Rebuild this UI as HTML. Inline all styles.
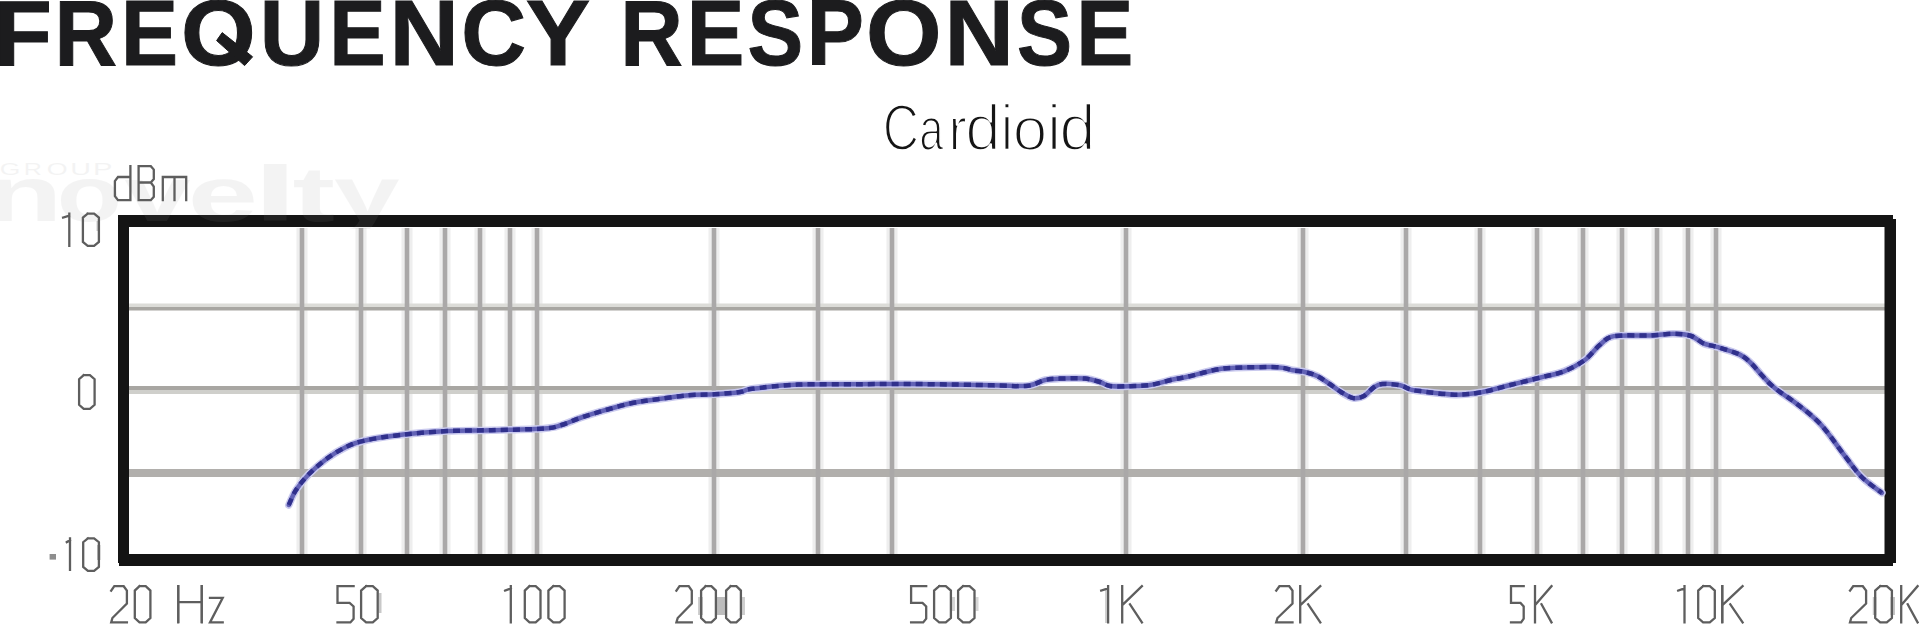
<!DOCTYPE html>
<html><head><meta charset="utf-8"><style>
html,body{margin:0;padding:0;background:#fff;}
body{width:1920px;height:625px;overflow:hidden;position:relative;}
svg{position:absolute;left:0;top:0;font-family:"Liberation Sans",sans-serif;}
</style></head><body>
<svg width="1920" height="625" viewBox="0 0 1920 625">
<rect x="296.5" y="228" width="11" height="326" fill="#eeeeee"/><rect x="355.5" y="228" width="11" height="326" fill="#eeeeee"/><rect x="401.5" y="228" width="11" height="326" fill="#eeeeee"/><rect x="439.5" y="228" width="11" height="326" fill="#eeeeee"/><rect x="474.5" y="228" width="11" height="326" fill="#eeeeee"/><rect x="504.5" y="228" width="11" height="326" fill="#eeeeee"/><rect x="531.5" y="228" width="11" height="326" fill="#eeeeee"/><rect x="708.5" y="228" width="11" height="326" fill="#eeeeee"/><rect x="812.5" y="228" width="11" height="326" fill="#eeeeee"/><rect x="886.5" y="228" width="11" height="326" fill="#eeeeee"/><rect x="1120.5" y="228" width="11" height="326" fill="#eeeeee"/><rect x="1297.5" y="228" width="11" height="326" fill="#eeeeee"/><rect x="1400.5" y="228" width="11" height="326" fill="#eeeeee"/><rect x="1474.5" y="228" width="11" height="326" fill="#eeeeee"/><rect x="1531.5" y="228" width="11" height="326" fill="#eeeeee"/><rect x="1577.5" y="228" width="11" height="326" fill="#eeeeee"/><rect x="1616.5" y="228" width="11" height="326" fill="#eeeeee"/><rect x="1651.5" y="228" width="11" height="326" fill="#eeeeee"/><rect x="1682.5" y="228" width="11" height="326" fill="#eeeeee"/><rect x="1710.5" y="228" width="11" height="326" fill="#eeeeee"/><rect x="129" y="303.5" width="1756" height="3.5" fill="#dcdcd8"/><rect x="129" y="307" width="1756" height="3.5" fill="#a8a6a2"/><rect x="129" y="386" width="1756" height="4" fill="#a8a6a2"/><rect x="129" y="390" width="1756" height="4" fill="#cfcfcb"/><rect x="129" y="469" width="1756" height="8" fill="#b1afac"/><rect x="299.7" y="228" width="4.6" height="326" fill="#aaa8a8"/><rect x="358.7" y="228" width="4.6" height="326" fill="#aaa8a8"/><rect x="404.7" y="228" width="4.6" height="326" fill="#aaa8a8"/><rect x="442.7" y="228" width="4.6" height="326" fill="#aaa8a8"/><rect x="477.7" y="228" width="4.6" height="326" fill="#aaa8a8"/><rect x="507.7" y="228" width="4.6" height="326" fill="#aaa8a8"/><rect x="534.7" y="228" width="4.6" height="326" fill="#aaa8a8"/><rect x="711.7" y="228" width="4.6" height="326" fill="#aaa8a8"/><rect x="815.7" y="228" width="4.6" height="326" fill="#aaa8a8"/><rect x="889.7" y="228" width="4.6" height="326" fill="#aaa8a8"/><rect x="1123.7" y="228" width="4.6" height="326" fill="#aaa8a8"/><rect x="1300.7" y="228" width="4.6" height="326" fill="#aaa8a8"/><rect x="1403.7" y="228" width="4.6" height="326" fill="#aaa8a8"/><rect x="1477.7" y="228" width="4.6" height="326" fill="#aaa8a8"/><rect x="1534.7" y="228" width="4.6" height="326" fill="#aaa8a8"/><rect x="1580.7" y="228" width="4.6" height="326" fill="#aaa8a8"/><rect x="1619.7" y="228" width="4.6" height="326" fill="#aaa8a8"/><rect x="1654.7" y="228" width="4.6" height="326" fill="#aaa8a8"/><rect x="1685.7" y="228" width="4.6" height="326" fill="#aaa8a8"/><rect x="1713.7" y="228" width="4.6" height="326" fill="#aaa8a8"/>
<path d="M118 215H1893V219H1896V563H1893V566H119V563H118Z M129 227V554H1884.5V227Z" fill="#141414" fill-rule="evenodd"/>
<g fill="none" stroke-linecap="round" stroke-linejoin="round">
<path d="M288.8 505.0 C290.0 502.5 292.6 495.2 296.0 490.0 C299.4 484.8 303.8 479.2 309.0 474.0 C314.2 468.8 320.7 463.1 327.0 458.5 C333.3 453.9 340.7 449.5 347.0 446.5 C353.3 443.5 355.6 442.5 365.0 440.5 C374.4 438.5 389.5 436.2 403.2 434.6 C416.9 433.0 432.5 431.8 447.2 431.1 C461.9 430.4 475.1 430.6 491.2 430.2 C507.3 429.8 532.3 429.4 544.0 428.5 C555.7 427.6 555.5 426.8 561.5 425.0 C567.5 423.2 573.6 420.2 580.0 418.0 C586.4 415.8 591.5 414.1 600.0 411.7 C608.5 409.2 621.5 405.4 631.0 403.3 C640.5 401.2 647.7 400.6 657.3 399.2 C666.9 397.8 679.0 396.0 688.5 395.2 C698.0 394.4 706.0 394.8 714.6 394.3 C723.2 393.8 733.8 392.9 740.0 392.0 C746.2 391.1 742.3 390.0 752.0 388.8 C761.7 387.6 780.0 385.4 798.0 384.6 C816.0 383.8 842.6 384.3 860.0 384.2 C877.4 384.1 885.0 383.8 902.5 383.9 C920.0 384.0 948.8 384.4 965.0 384.7 C981.2 385.0 989.5 385.3 1000.0 385.5 C1010.5 385.7 1020.5 386.7 1028.0 385.8 C1035.5 384.9 1039.7 381.2 1045.0 380.0 C1050.3 378.8 1053.3 378.8 1060.0 378.6 C1066.7 378.4 1078.3 378.0 1085.0 378.6 C1091.7 379.2 1095.8 380.8 1100.0 382.0 C1104.2 383.2 1105.0 385.3 1110.0 386.0 C1115.0 386.7 1123.3 386.4 1130.0 386.2 C1136.7 386.0 1142.8 386.1 1150.0 385.0 C1157.2 383.9 1166.6 380.9 1173.0 379.5 C1179.4 378.1 1183.3 377.7 1188.5 376.5 C1193.7 375.3 1198.8 373.8 1204.0 372.5 C1209.2 371.2 1214.8 369.8 1220.0 369.0 C1225.2 368.2 1225.9 368.0 1235.4 367.7 C1244.9 367.4 1267.5 366.8 1277.0 367.2 C1286.5 367.6 1287.9 369.5 1292.7 370.3 C1297.5 371.1 1301.7 371.2 1305.8 372.2 C1309.9 373.2 1313.3 374.1 1317.3 376.1 C1321.3 378.1 1325.6 381.4 1329.6 384.0 C1333.5 386.6 1337.0 389.6 1341.0 392.0 C1345.0 394.4 1349.5 397.5 1353.3 398.1 C1357.1 398.8 1360.5 397.7 1363.9 395.9 C1367.3 394.1 1370.5 389.5 1373.6 387.5 C1376.7 385.5 1377.9 384.4 1382.3 384.0 C1386.7 383.6 1395.4 384.4 1400.0 385.3 C1404.6 386.2 1406.7 388.3 1410.0 389.3 C1413.3 390.3 1412.5 390.2 1420.0 391.1 C1427.5 392.0 1444.5 394.5 1454.7 394.7 C1464.9 394.9 1472.2 393.9 1481.3 392.3 C1490.4 390.7 1499.5 387.8 1509.4 385.3 C1519.3 382.8 1531.5 379.8 1540.6 377.5 C1549.7 375.2 1556.7 374.2 1564.0 371.3 C1571.3 368.4 1578.4 364.7 1584.4 360.3 C1590.4 355.9 1595.1 348.7 1600.0 344.7 C1604.9 340.7 1605.7 337.6 1614.0 336.1 C1622.3 334.6 1640.1 335.9 1650.0 335.5 C1659.9 335.1 1666.5 333.7 1673.4 333.8 C1680.3 333.8 1686.1 334.3 1691.2 336.0 C1696.3 337.7 1699.7 341.9 1704.0 343.7 C1708.3 345.5 1710.8 345.1 1716.8 346.9 C1722.8 348.7 1734.0 351.8 1739.8 354.6 C1745.6 357.4 1747.8 360.1 1751.4 363.5 C1755.0 366.9 1757.8 370.9 1761.6 375.0 C1765.4 379.1 1768.3 382.8 1774.4 387.8 C1780.5 392.8 1790.5 398.8 1798.3 405.0 C1806.1 411.2 1813.7 416.8 1821.4 425.2 C1829.1 433.6 1837.7 446.8 1844.4 455.4 C1851.1 464.0 1855.5 470.8 1861.7 477.0 C1868.0 483.2 1878.5 490.2 1881.9 492.9" stroke="#cacaee" stroke-width="7.5"/>
<path d="M288.8 505.0 C290.0 502.5 292.6 495.2 296.0 490.0 C299.4 484.8 303.8 479.2 309.0 474.0 C314.2 468.8 320.7 463.1 327.0 458.5 C333.3 453.9 340.7 449.5 347.0 446.5 C353.3 443.5 355.6 442.5 365.0 440.5 C374.4 438.5 389.5 436.2 403.2 434.6 C416.9 433.0 432.5 431.8 447.2 431.1 C461.9 430.4 475.1 430.6 491.2 430.2 C507.3 429.8 532.3 429.4 544.0 428.5 C555.7 427.6 555.5 426.8 561.5 425.0 C567.5 423.2 573.6 420.2 580.0 418.0 C586.4 415.8 591.5 414.1 600.0 411.7 C608.5 409.2 621.5 405.4 631.0 403.3 C640.5 401.2 647.7 400.6 657.3 399.2 C666.9 397.8 679.0 396.0 688.5 395.2 C698.0 394.4 706.0 394.8 714.6 394.3 C723.2 393.8 733.8 392.9 740.0 392.0 C746.2 391.1 742.3 390.0 752.0 388.8 C761.7 387.6 780.0 385.4 798.0 384.6 C816.0 383.8 842.6 384.3 860.0 384.2 C877.4 384.1 885.0 383.8 902.5 383.9 C920.0 384.0 948.8 384.4 965.0 384.7 C981.2 385.0 989.5 385.3 1000.0 385.5 C1010.5 385.7 1020.5 386.7 1028.0 385.8 C1035.5 384.9 1039.7 381.2 1045.0 380.0 C1050.3 378.8 1053.3 378.8 1060.0 378.6 C1066.7 378.4 1078.3 378.0 1085.0 378.6 C1091.7 379.2 1095.8 380.8 1100.0 382.0 C1104.2 383.2 1105.0 385.3 1110.0 386.0 C1115.0 386.7 1123.3 386.4 1130.0 386.2 C1136.7 386.0 1142.8 386.1 1150.0 385.0 C1157.2 383.9 1166.6 380.9 1173.0 379.5 C1179.4 378.1 1183.3 377.7 1188.5 376.5 C1193.7 375.3 1198.8 373.8 1204.0 372.5 C1209.2 371.2 1214.8 369.8 1220.0 369.0 C1225.2 368.2 1225.9 368.0 1235.4 367.7 C1244.9 367.4 1267.5 366.8 1277.0 367.2 C1286.5 367.6 1287.9 369.5 1292.7 370.3 C1297.5 371.1 1301.7 371.2 1305.8 372.2 C1309.9 373.2 1313.3 374.1 1317.3 376.1 C1321.3 378.1 1325.6 381.4 1329.6 384.0 C1333.5 386.6 1337.0 389.6 1341.0 392.0 C1345.0 394.4 1349.5 397.5 1353.3 398.1 C1357.1 398.8 1360.5 397.7 1363.9 395.9 C1367.3 394.1 1370.5 389.5 1373.6 387.5 C1376.7 385.5 1377.9 384.4 1382.3 384.0 C1386.7 383.6 1395.4 384.4 1400.0 385.3 C1404.6 386.2 1406.7 388.3 1410.0 389.3 C1413.3 390.3 1412.5 390.2 1420.0 391.1 C1427.5 392.0 1444.5 394.5 1454.7 394.7 C1464.9 394.9 1472.2 393.9 1481.3 392.3 C1490.4 390.7 1499.5 387.8 1509.4 385.3 C1519.3 382.8 1531.5 379.8 1540.6 377.5 C1549.7 375.2 1556.7 374.2 1564.0 371.3 C1571.3 368.4 1578.4 364.7 1584.4 360.3 C1590.4 355.9 1595.1 348.7 1600.0 344.7 C1604.9 340.7 1605.7 337.6 1614.0 336.1 C1622.3 334.6 1640.1 335.9 1650.0 335.5 C1659.9 335.1 1666.5 333.7 1673.4 333.8 C1680.3 333.8 1686.1 334.3 1691.2 336.0 C1696.3 337.7 1699.7 341.9 1704.0 343.7 C1708.3 345.5 1710.8 345.1 1716.8 346.9 C1722.8 348.7 1734.0 351.8 1739.8 354.6 C1745.6 357.4 1747.8 360.1 1751.4 363.5 C1755.0 366.9 1757.8 370.9 1761.6 375.0 C1765.4 379.1 1768.3 382.8 1774.4 387.8 C1780.5 392.8 1790.5 398.8 1798.3 405.0 C1806.1 411.2 1813.7 416.8 1821.4 425.2 C1829.1 433.6 1837.7 446.8 1844.4 455.4 C1851.1 464.0 1855.5 470.8 1861.7 477.0 C1868.0 483.2 1878.5 490.2 1881.9 492.9" stroke="#6262b6" stroke-width="4.5"/>
<path d="M288.8 505.0 C290.0 502.5 292.6 495.2 296.0 490.0 C299.4 484.8 303.8 479.2 309.0 474.0 C314.2 468.8 320.7 463.1 327.0 458.5 C333.3 453.9 340.7 449.5 347.0 446.5 C353.3 443.5 355.6 442.5 365.0 440.5 C374.4 438.5 389.5 436.2 403.2 434.6 C416.9 433.0 432.5 431.8 447.2 431.1 C461.9 430.4 475.1 430.6 491.2 430.2 C507.3 429.8 532.3 429.4 544.0 428.5 C555.7 427.6 555.5 426.8 561.5 425.0 C567.5 423.2 573.6 420.2 580.0 418.0 C586.4 415.8 591.5 414.1 600.0 411.7 C608.5 409.2 621.5 405.4 631.0 403.3 C640.5 401.2 647.7 400.6 657.3 399.2 C666.9 397.8 679.0 396.0 688.5 395.2 C698.0 394.4 706.0 394.8 714.6 394.3 C723.2 393.8 733.8 392.9 740.0 392.0 C746.2 391.1 742.3 390.0 752.0 388.8 C761.7 387.6 780.0 385.4 798.0 384.6 C816.0 383.8 842.6 384.3 860.0 384.2 C877.4 384.1 885.0 383.8 902.5 383.9 C920.0 384.0 948.8 384.4 965.0 384.7 C981.2 385.0 989.5 385.3 1000.0 385.5 C1010.5 385.7 1020.5 386.7 1028.0 385.8 C1035.5 384.9 1039.7 381.2 1045.0 380.0 C1050.3 378.8 1053.3 378.8 1060.0 378.6 C1066.7 378.4 1078.3 378.0 1085.0 378.6 C1091.7 379.2 1095.8 380.8 1100.0 382.0 C1104.2 383.2 1105.0 385.3 1110.0 386.0 C1115.0 386.7 1123.3 386.4 1130.0 386.2 C1136.7 386.0 1142.8 386.1 1150.0 385.0 C1157.2 383.9 1166.6 380.9 1173.0 379.5 C1179.4 378.1 1183.3 377.7 1188.5 376.5 C1193.7 375.3 1198.8 373.8 1204.0 372.5 C1209.2 371.2 1214.8 369.8 1220.0 369.0 C1225.2 368.2 1225.9 368.0 1235.4 367.7 C1244.9 367.4 1267.5 366.8 1277.0 367.2 C1286.5 367.6 1287.9 369.5 1292.7 370.3 C1297.5 371.1 1301.7 371.2 1305.8 372.2 C1309.9 373.2 1313.3 374.1 1317.3 376.1 C1321.3 378.1 1325.6 381.4 1329.6 384.0 C1333.5 386.6 1337.0 389.6 1341.0 392.0 C1345.0 394.4 1349.5 397.5 1353.3 398.1 C1357.1 398.8 1360.5 397.7 1363.9 395.9 C1367.3 394.1 1370.5 389.5 1373.6 387.5 C1376.7 385.5 1377.9 384.4 1382.3 384.0 C1386.7 383.6 1395.4 384.4 1400.0 385.3 C1404.6 386.2 1406.7 388.3 1410.0 389.3 C1413.3 390.3 1412.5 390.2 1420.0 391.1 C1427.5 392.0 1444.5 394.5 1454.7 394.7 C1464.9 394.9 1472.2 393.9 1481.3 392.3 C1490.4 390.7 1499.5 387.8 1509.4 385.3 C1519.3 382.8 1531.5 379.8 1540.6 377.5 C1549.7 375.2 1556.7 374.2 1564.0 371.3 C1571.3 368.4 1578.4 364.7 1584.4 360.3 C1590.4 355.9 1595.1 348.7 1600.0 344.7 C1604.9 340.7 1605.7 337.6 1614.0 336.1 C1622.3 334.6 1640.1 335.9 1650.0 335.5 C1659.9 335.1 1666.5 333.7 1673.4 333.8 C1680.3 333.8 1686.1 334.3 1691.2 336.0 C1696.3 337.7 1699.7 341.9 1704.0 343.7 C1708.3 345.5 1710.8 345.1 1716.8 346.9 C1722.8 348.7 1734.0 351.8 1739.8 354.6 C1745.6 357.4 1747.8 360.1 1751.4 363.5 C1755.0 366.9 1757.8 370.9 1761.6 375.0 C1765.4 379.1 1768.3 382.8 1774.4 387.8 C1780.5 392.8 1790.5 398.8 1798.3 405.0 C1806.1 411.2 1813.7 416.8 1821.4 425.2 C1829.1 433.6 1837.7 446.8 1844.4 455.4 C1851.1 464.0 1855.5 470.8 1861.7 477.0 C1868.0 483.2 1878.5 490.2 1881.9 492.9" stroke="#30308c" stroke-width="4.5" stroke-dasharray="7 5" stroke-linecap="butt"/>
</g>
<clipPath id="wc"><rect x="0" y="140" width="420" height="89"/></clipPath><g fill="#969696" opacity="0.10" clip-path="url(#wc)"><text transform="translate(-14.29 220.50) scale(1.6197 1)" font-size="77.60" font-weight="bold">n</text><text transform="translate(56.82 220.50) scale(1.3788 1)" font-size="77.60" font-weight="bold">o</text><text transform="translate(124.54 220.50) scale(1.5288 1)" font-size="77.60" font-weight="bold">v</text><text transform="translate(187.87 220.50) scale(1.6264 1)" font-size="77.60" font-weight="bold">e</text><text transform="translate(252.55 220.50) scale(2.1131 1)" font-size="77.60" font-weight="bold">l</text><text transform="translate(292.44 220.50) scale(1.6452 1)" font-size="77.60" font-weight="bold">t</text><text transform="translate(334.08 220.50) scale(1.5189 1)" font-size="77.60" font-weight="bold">y</text><text transform="translate(-0.33 175.30) scale(1.6881 1)" font-size="15.70" font-weight="normal">G</text><text transform="translate(23.64 175.30) scale(1.5986 1)" font-size="15.70" font-weight="normal">R</text><text transform="translate(46.73 175.30) scale(1.7078 1)" font-size="15.70" font-weight="normal">O</text><text transform="translate(70.19 175.30) scale(1.8285 1)" font-size="15.70" font-weight="normal">U</text><text transform="translate(93.11 175.30) scale(1.8552 1)" font-size="15.70" font-weight="normal">P</text></g>
<g fill="#1c1c1e" stroke="#1c1c1e" stroke-width="1"><text transform="translate(-6.41 64.60) scale(1.0428 1)" font-size="91.86" font-weight="bold">F</text><text transform="translate(54.40 64.60) scale(0.9432 1)" font-size="91.86" font-weight="bold">R</text><text transform="translate(120.98 64.60) scale(0.9314 1)" font-size="91.86" font-weight="bold">E</text><text transform="translate(181.06 64.60) scale(1.0450 1)" font-size="91.86" font-weight="bold">O</text><text transform="translate(259.63 64.60) scale(0.9735 1)" font-size="91.86" font-weight="bold">U</text><text transform="translate(329.34 64.60) scale(0.9217 1)" font-size="91.86" font-weight="bold">E</text><text transform="translate(389.57 64.60) scale(1.0462 1)" font-size="91.86" font-weight="bold">N</text><text transform="translate(461.31 64.60) scale(0.9782 1)" font-size="91.86" font-weight="bold">C</text><text transform="translate(525.85 64.60) scale(1.0520 1)" font-size="91.86" font-weight="bold">Y</text><text transform="translate(620.20 64.60) scale(0.9432 1)" font-size="91.86" font-weight="bold">R</text><text transform="translate(686.72 64.60) scale(0.9411 1)" font-size="91.86" font-weight="bold">E</text><text transform="translate(747.60 64.60) scale(0.9085 1)" font-size="91.86" font-weight="bold">S</text><text transform="translate(806.77 64.60) scale(0.9329 1)" font-size="91.86" font-weight="bold">P</text><text transform="translate(866.02 64.60) scale(1.0575 1)" font-size="91.86" font-weight="bold">O</text><text transform="translate(944.57 64.60) scale(1.0462 1)" font-size="91.86" font-weight="bold">N</text><text transform="translate(1017.12 64.60) scale(0.8994 1)" font-size="91.86" font-weight="bold">S</text><text transform="translate(1076.28 64.60) scale(0.9314 1)" font-size="91.86" font-weight="bold">E</text><polygon points="222.2,32.6 216.6,40.6 244.6,65.6 252.6,56.8"/></g>
<g fill="#151515" stroke="#fff" stroke-width="2.4" stroke-linejoin="round"><text transform="translate(882.84 149.90) scale(0.7684 1)" font-size="65.55" font-weight="normal">C</text><text transform="translate(919.35 149.90) scale(0.6652 0.925)" font-size="65.55" font-weight="normal">a</text><text transform="translate(948.28 149.90) scale(0.8543 0.925)" font-size="65.55" font-weight="normal">r</text><text transform="translate(965.33 149.90) scale(0.9702 0.975)" font-size="65.55" font-weight="normal">d</text><text transform="translate(1000.52 149.90) scale(0.8852 0.975)" font-size="65.55" font-weight="normal">i</text><text transform="translate(1012.69 149.90) scale(0.9466 0.925)" font-size="65.55" font-weight="normal">o</text><text transform="translate(1046.94 149.90) scale(0.9720 0.975)" font-size="65.55" font-weight="normal">i</text><text transform="translate(1059.25 149.90) scale(0.9973 0.975)" font-size="65.55" font-weight="normal">d</text></g>
<rect x="975.5" y="597.0" width="3.0" height="14.0" fill="#d6d6d6"/><rect x="952.0" y="597.0" width="3.0" height="14.0" fill="#d6d6d6"/><rect x="97.0" y="545.0" width="3.5" height="15.0" fill="#c4c4c4"/><rect x="96.5" y="221.0" width="3.5" height="10.0" fill="#cccccc"/><rect x="378.5" y="593.0" width="3.0" height="20.0" fill="#c8c8c8"/><rect x="1105.0" y="590.0" width="3.0" height="33.0" fill="#d0d0d0"/><rect x="200.0" y="585.0" width="3.0" height="38.0" fill="#c4c4c4"/><rect x="177.0" y="585.0" width="3.0" height="38.0" fill="#c4c4c4"/><rect x="1721.0" y="585.0" width="3.0" height="38.0" fill="#bdbdbd"/><rect x="1890.5" y="597.0" width="4.5" height="18.0" fill="#c4c4c4"/><rect x="1872.8" y="597.0" width="3.5" height="18.0" fill="#c4c4c4"/><rect x="741.0" y="597.0" width="4.0" height="18.0" fill="#cfcfcf"/><rect x="698.0" y="597.0" width="5.0" height="18.0" fill="#cfcfcf"/><rect x="715.0" y="597.0" width="12.0" height="18.0" fill="#bdbdbd"/><path d="M111.2 590.6L114.3 586.2L123.7 586.2L126.9 590.6L126.9 603.6L112.4 618.0L111.2 622.4L126.9 622.4M139.5 586.2L145.7 586.2L150.4 590.6L150.4 618.0L145.7 622.4L139.5 622.4L134.8 618.0L134.8 590.6L139.5 586.2M178.2 586.2L178.2 622.4M201.8 586.2L201.8 622.4M178.2 602.1L201.8 602.1M210.0 597.8L222.7 597.8L210.0 622.4L222.7 622.4M353.6 586.2L337.5 586.2L337.5 602.9L349.6 602.9L353.6 606.5L353.6 618.7L350.4 622.4L337.5 622.4M366.1 586.2L372.8 586.2L377.7 590.6L377.7 618.0L372.8 622.4L366.1 622.4L361.1 618.0L361.1 590.6L366.1 586.2M510.8 586.2L510.8 622.4M505.1 590.6L510.8 588.4M529.5 586.2L535.7 586.2L540.5 590.6L540.5 618.0L535.7 622.4L529.5 622.4L524.8 618.0L524.8 590.6L529.5 586.2M553.3 586.2L559.7 586.2L564.6 590.6L564.6 618.0L559.7 622.4L553.3 622.4L548.4 618.0L548.4 590.6L553.3 586.2M676.4 590.6L679.5 586.2L688.7 586.2L691.8 590.6L691.8 603.6L677.7 618.0L676.4 622.4L691.8 622.4M705.6 586.2L711.4 586.2L715.9 590.6L715.9 618.0L711.4 622.4L705.6 622.4L701.1 618.0L701.1 590.6L705.6 586.2M730.6 586.2L736.4 586.2L740.9 590.6L740.9 618.0L736.4 622.4L730.6 622.4L726.1 618.0L726.1 590.6L730.6 586.2M926.2 586.2L911.1 586.2L911.1 602.9L922.5 602.9L926.2 606.5L926.2 618.7L923.2 622.4L911.1 622.4M939.2 586.2L945.8 586.2L950.9 590.6L950.9 618.0L945.8 622.4L939.2 622.4L934.1 618.0L934.1 590.6L939.2 586.2M963.0 586.2L969.6 586.2L974.5 590.6L974.5 618.0L969.6 622.4L963.0 622.4L958.1 618.0L958.1 590.6L963.0 586.2M1108.1 586.2L1108.1 622.4M1101.2 590.6L1108.1 588.4M1122.2 586.2L1122.2 622.4M1141.9 586.2L1123.1 604.3M1130.0 604.3L1141.9 622.4M1276.2 590.6L1279.4 586.2L1289.2 586.2L1292.5 590.6L1292.5 603.6L1277.5 618.0L1276.2 622.4L1292.5 622.4M1300.2 586.2L1300.2 622.4M1320.3 586.2L1301.2 604.3M1308.2 604.3L1320.3 622.4M1523.7 586.2L1511.0 586.2L1511.0 602.9L1520.5 602.9L1523.7 606.5L1523.7 618.7L1521.1 622.4L1511.0 622.4M1535.0 586.2L1535.0 622.4M1551.5 586.2L1535.8 604.3M1541.5 604.3L1551.5 622.4M1684.5 586.2L1684.5 622.4M1678.2 590.6L1684.5 588.4M1703.1 586.2L1709.8 586.2L1714.8 590.6L1714.8 618.0L1709.8 622.4L1703.1 622.4L1698.2 618.0L1698.2 590.6L1703.1 586.2M1722.2 586.2L1722.2 622.4M1742.6 586.2L1723.2 604.3M1730.3 604.3L1742.6 622.4M1850.0 590.6L1853.2 586.2L1862.8 586.2L1866.1 590.6L1866.1 603.6L1851.2 618.0L1850.0 622.4L1866.1 622.4M1880.2 586.2L1886.8 586.2L1891.9 590.6L1891.9 618.0L1886.8 622.4L1880.2 622.4L1875.2 618.0L1875.2 590.6L1880.2 586.2M1901.2 586.2L1901.2 622.4M1917.6 586.2L1902.0 604.3M1907.7 604.3L1917.6 622.4M130.4 166.2L130.4 200.2L118.0 200.2L114.9 196.1L114.9 181.1L118.0 177.0L130.4 177.0M138.6 166.2L138.6 200.2L150.8 200.2L153.8 196.8L153.8 186.6L150.8 182.5L138.6 182.5M138.6 166.2L150.8 166.2L153.8 169.6L153.8 179.1L150.8 182.5M162.8 200.2L162.8 177.0L186.2 177.0L186.2 200.2M174.5 177.0L174.5 200.2M69.3 213.7L69.3 245.9M63.1 217.5L69.3 215.6M87.7 213.7L94.1 213.7L98.9 217.5L98.9 242.0L94.1 245.9L87.7 245.9L82.9 242.0L82.9 217.5L87.7 213.7M83.7 375.1L89.9 375.1L94.6 379.2L94.6 404.8L89.9 408.8L83.7 408.8L79.1 404.8L79.1 379.2L83.7 375.1M70.0 538.4L70.0 569.9M66.8 542.1L70.0 540.2M87.9 538.4L94.1 538.4L98.9 542.2L98.9 566.9L94.1 570.9L87.9 570.9L83.2 566.9L83.2 542.2L87.9 538.4" fill="none" stroke="#5e5e5e" stroke-width="2.3" stroke-linejoin="miter" stroke-linecap="square"/><rect x="49.6" y="554" width="6.4" height="5.6" fill="#5e5e5e" opacity="0.7"/>
</svg>
</body></html>
